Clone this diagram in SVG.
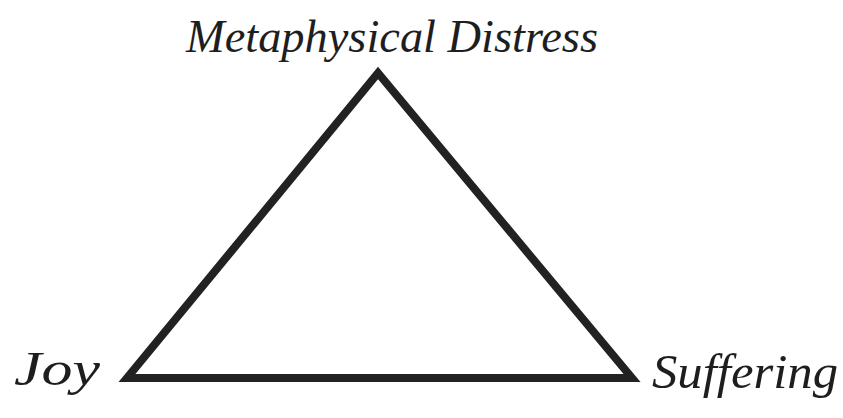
<svg xmlns="http://www.w3.org/2000/svg" width="843" height="418" viewBox="0 0 843 418">
<style>
.lbl{font-family:"Liberation Serif","DejaVu Serif",serif;font-style:italic;fill:#1e1e1e;}
.edge{fill:none;stroke:#222;stroke-width:8;stroke-linejoin:miter;}
</style>
<rect width="843" height="418" fill="#fff"/>
<g id="connectors">
<polygon class="edge" points="378,73 127,378 632,378"/>
</g>
<g id="node-top">
<text class="lbl" x="186" y="52" font-size="46" textLength="412" lengthAdjust="spacingAndGlyphs">Metaphysical Distress</text>
</g>
<g id="node-joy">
<text class="lbl" x="14" y="385" font-size="48" textLength="86" lengthAdjust="spacingAndGlyphs">Joy</text>
</g>
<g id="node-suffering">
<text class="lbl" x="652" y="388" font-size="48" textLength="186" lengthAdjust="spacingAndGlyphs">Suffering</text>
</g>
</svg>
